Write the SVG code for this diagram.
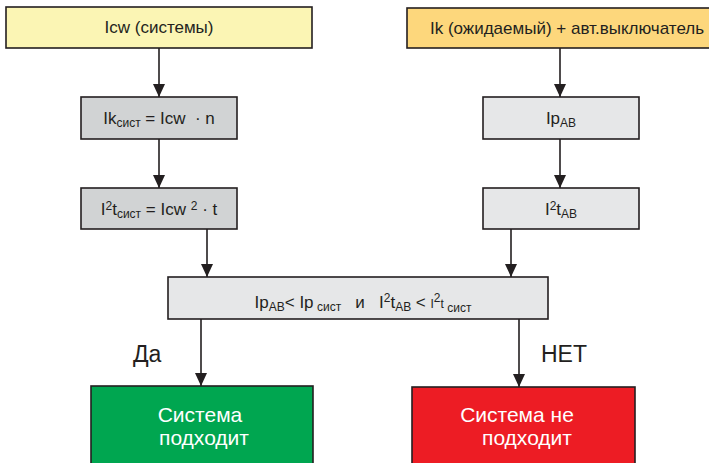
<svg xmlns="http://www.w3.org/2000/svg" width="709" height="463" viewBox="0 0 709 463">
<defs>
<style>
.box{stroke:#231f20;stroke-width:1.6}
.t{font-family:"Liberation Sans",Arial,sans-serif;font-size:17px;fill:#231f20;text-anchor:middle;white-space:pre}
.s{font-size:12px}
.lbl{font-family:"Liberation Sans",Arial,sans-serif;font-size:23px;fill:#231f20}
.w{font-family:"Liberation Sans",Arial,sans-serif;font-size:21px;fill:#ffffff;text-anchor:middle}
.c{stroke:#231f20;stroke-width:1.6;fill:none;marker-end:url(#ah)}
</style>
<marker id="ah" markerUnits="userSpaceOnUse" markerWidth="14" markerHeight="12" refX="13" refY="6" orient="auto" viewBox="0 0 14 12">
<path d="M0,0 L13,6 L0,12 Z" fill="#231f20"/>
</marker>
</defs>
<g id="connectors">
<line class="c" x1="159" y1="48" x2="159" y2="97"/>
<line class="c" x1="159" y1="139" x2="159" y2="188"/>
<line class="c" x1="207" y1="229" x2="207" y2="277"/>
<line class="c" x1="560" y1="48" x2="560" y2="97"/>
<line class="c" x1="560" y1="139" x2="560" y2="188"/>
<line class="c" x1="511" y1="229" x2="511" y2="277"/>
<line class="c" x1="201" y1="319" x2="201" y2="386"/>
<line class="c" x1="519" y1="319" x2="519" y2="387"/>
</g>
<g id="icw">
<rect class="box" x="6" y="7" width="306" height="41" fill="#fbf5b4"/>
<text class="t" x="159" y="33">Icw (системы)</text>
</g>
<g id="ik">
<rect class="box" x="407" y="8" width="310" height="40" fill="#fdd77c"/>
<text class="t" x="567" y="34">Ik (ожидаемый) + авт.выключатель</text>
</g>
<g id="iksist">
<rect class="box" x="81" y="97" width="156" height="42" fill="#d1d3d4"/>
<text class="t" x="159" y="124" xml:space="preserve">Ik<tspan class="s" dy="3">сист</tspan><tspan dy="-3"> = Icw  · n</tspan></text>
</g>
<g id="i2tsist">
<rect class="box" x="81" y="188" width="156" height="41" fill="#d1d3d4"/>
<text class="t" x="159" y="215" xml:space="preserve">I<tspan class="s" dy="-5">2</tspan><tspan dy="5">t</tspan><tspan class="s" dy="3">сист</tspan><tspan dy="-3"> = Icw </tspan><tspan class="s" dy="-5">2</tspan><tspan dy="5"> · t</tspan></text>
</g>
<g id="ipab">
<rect class="box" x="483" y="97" width="156" height="42" fill="#e6e7e8"/>
<text class="t" x="561" y="124">Ip<tspan class="s" dy="3">AB</tspan></text>
</g>
<g id="i2tab">
<rect class="box" x="483" y="188" width="156" height="41" fill="#e6e7e8"/>
<text class="t" x="561" y="215">I<tspan class="s" dy="-5">2</tspan><tspan dy="5">t</tspan><tspan class="s" dy="3">AB</tspan></text>
</g>
<g id="cond">
<rect class="box" x="168" y="277" width="380" height="42" fill="#e6e7e8"/>
<text class="t" x="363" y="308" xml:space="preserve">Ip<tspan class="s" dy="3">AB</tspan><tspan dy="-3">&lt; Ip</tspan><tspan class="s" dy="3"> сист</tspan><tspan dy="-3">   и   I</tspan><tspan class="s" dy="-6">2</tspan><tspan dy="6">t</tspan><tspan class="s" dy="3">AB</tspan><tspan dy="-3"> &lt; </tspan><tspan class="s">I</tspan><tspan class="s" dy="-6">2</tspan><tspan class="s" dy="6">t</tspan><tspan class="s" dy="4"> сист</tspan></text>
</g>
<g id="labels">
<text class="lbl" x="133" y="362">Да</text>
<text class="lbl" x="541" y="362">НЕТ</text>
</g>
<g id="yes">
<rect class="box" x="91" y="386" width="222" height="90" fill="#00a650"/>
<text class="w" x="200" y="422">Система</text>
<text class="w" x="204" y="445">подходит</text>
</g>
<g id="no">
<rect class="box" x="412" y="387" width="223" height="90" fill="#ed1c24"/>
<text class="w" x="517" y="422">Система не</text>
<text class="w" x="527" y="445">подходит</text>
</g>
</svg>
